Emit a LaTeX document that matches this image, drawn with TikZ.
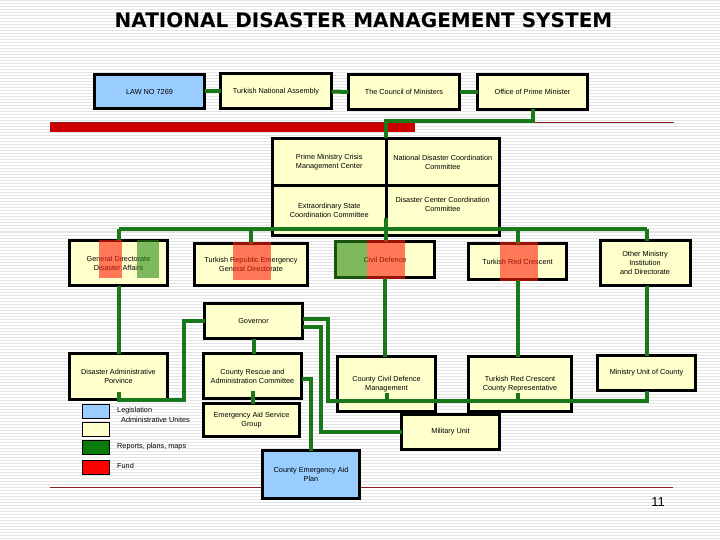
\documentclass[tikz,border=0pt]{standalone}
\usepackage{fontspec}
\newfontfamily\lsans{Liberation Sans}
\newfontfamily\ttlfont{DejaVu Sans}
\definecolor{cream}{RGB}{255,255,204}
\definecolor{lblue}{RGB}{153,204,255}
\definecolor{lgreen}{RGB}{25,120,25}
\definecolor{barred}{RGB}{204,0,0}
\definecolor{tred}{RGB}{140,30,30}
\definecolor{stripe}{RGB}{228,228,228}
\definecolor{ovred}{RGB}{255,30,10}
\definecolor{ovgreen}{RGB}{40,140,20}
\definecolor{legred}{RGB}{255,0,0}
\definecolor{leggreen}{RGB}{10,122,10}
\begin{document}
\begin{tikzpicture}[x=1pt,y=-1pt,
  box/.style={draw=black,line width=3pt,fill=cream,align=center,inner sep=0pt,outer sep=0pt,
    font=\lsans\fontsize{7.3}{9}\selectfont,text=black},
  sz/.style 2 args={minimum width=#1pt,minimum height=#2pt},
  gl/.style={draw=lgreen,line width=4pt},
  sw/.style={draw=black,line width=1pt,minimum width=27pt,minimum height=14pt,inner sep=0pt},
  lab/.style={anchor=west,inner sep=0pt,font=\lsans\fontsize{7.3}{9}\selectfont},
  rstrip/.style={fill=ovred,fill opacity=0.6},
  gstrip/.style={fill=ovgreen,fill opacity=0.6},
  tline/.style={draw=tred,line width=1pt}]
\useasboundingbox (0,0) rectangle (720,540);
\fill[white] (0,0) rectangle (720,540);
\foreach \i in {1,4,...,539} \draw[stripe,line width=1pt] (0,\i) -- (720,\i);
% template lines
\draw[tline] (50,123) -- (674,123);
\draw[tline] (50,487) -- (673,487);
% title
\node[font=\ttlfont\bfseries\fontsize{20}{22}\selectfont] (title) at (363.5,20) {NATIONAL DISASTER MANAGEMENT SYSTEM};
% red bar
\fill[barred] (50,123) rectangle (415,132);
% header row
\node[box,sz={110}{34},fill=lblue] (law) at (149.5,91.5) {LAW NO 7269};
\node[box,sz={111}{35}] (tna) at (276,91.5) {Turkish National Assembly};
\node[box,sz={111}{35}] (com) at (404,92) {The Council of Ministers};
\node[box,sz={110}{35}] (opm) at (532.5,92) {Office of Prime Minister};
% grid
\node[box,sz={113.5}{47.5}] (pmc) at (329.25,162.25) {Prime Ministry Crisis\\Management Center};
\node[box,sz={113.5}{47.5}] (ndc) at (442.75,162.25) {National Disaster Coordination\\Committee};
\node[box,sz={113.5}{49.5}] (esc) at (329.25,210.75) {Extraordinary State\\Coordination Committee};
\node[box,sz={113.5}{49.5}] (dcc) at (442.75,210.75) {Disaster Center Coordination\\Committee\\[3pt]};
% second row
\node[box,sz={98}{45}] (gd) at (118.5,263) {General Directorate\\Disaster Affairs};
\node[box,sz={113}{42}] (tre) at (251,264.5) {Turkish Republic Emergency\\General Directorate};
\node[box,sz={99}{36}] (cd) at (385,259.5) {Civil Defence};
\node[box,sz={98}{36}] (trc) at (517.5,261.5) {Turkish Red Crescent};
\node[box,sz={90}{45}] (om) at (645,263) {Other Ministry\\Institution\\and Directorate};
% lower part
\node[box,sz={98}{35}] (gov) at (253.5,321) {Governor};
\node[box,sz={98}{46}] (dap) at (118.5,376.5) {Disaster Administrative\\Porvince};
\node[box,sz={98}{45}] (crc) at (252.5,376) {County Rescue and\\Administration Committee};
\node[box,sz={96}{33}] (eas) at (251.5,420) {Emergency Aid Service\\Group};
\node[box,sz={97}{48},fill=lblue] (ceap) at (311,474.5) {County Emergency Aid\\Plan};
\node[box,sz={98}{55}] (ccd) at (386.5,384) {County Civil Defence\\Management};
\node[box,sz={103}{55}] (trcc) at (520,384) {Turkish Red Crescent\\County Representative};
\node[box,sz={98}{35}] (muc) at (646.5,373) {Ministry Unit of County};
\node[box,sz={98}{35}] (mil) at (450.5,432) {Military Unit};
% coordinates
\coordinate (t1) at (386,121);
\coordinate (gc) at (386,218);
\coordinate (busL) at (118.5,229);
\coordinate (busR) at (646.5,229);
\coordinate (jx) at (184,0);
\coordinate (lb1) at (328,401);
\coordinate (lb2) at (646.5,401);
\coordinate (lx) at (321,0);
% green connectors
\draw[gl] (law) -- (tna);
\draw[gl] (tna) -- (com);
\draw[gl] (com) -- (opm);
\draw[gl] (opm.south) |- (t1) -- (t1 |- pmc.north);
\draw[gl] (busL) -- (busR);
\draw[gl] (busL) -- (busL |- gd.north);
\draw[gl] (busL -| tre.north) -- (tre.north);
\draw[gl] (gc) -- (gc |- cd.north);
\draw[gl] (busL -| trc.north) -- (trc.north);
\draw[gl] (busR) -- (busR |- om.north);
\draw[gl] (gd.south) -- (dap.north);
\draw[gl] (cd.south) -- (cd.south |- ccd.north);
\draw[gl] (trc.south) -- (trc.south |- trcc.north);
\draw[gl] (muc.north |- om.south) -- (muc.north);
\draw[gl] ([yshift=8pt]dap.south) -- (dap.south) -- (dap.south -| jx) |- (gov.west);
\draw[gl] (gov.south) -- (gov.south |- crc.north);
\draw[gl] ([yshift=8pt]crc.south) -- (crc.south |- eas.north);
\draw[gl] ([yshift=-3pt]crc.east) -| (ceap.north);
\draw[gl] ([yshift=2pt]gov.east) -| (lb1) -- (lb2) -- (muc.south);
\draw[gl] (ccd.south |- lb1) -- ++(0,-8);
\draw[gl] (trc.south |- lb1) -- ++(0,-8);
\draw[gl] ([yshift=-6pt]gov.east) -| (mil.west -| lx) -- (mil.west);
% translucent strips
\fill[rstrip] (99,240) rectangle (122,278);
\fill[gstrip] (137,240) rectangle (159,278);
\fill[rstrip] (233,242) rectangle (271,280);
\fill[gstrip] (334,240) rectangle (367,279);
\fill[rstrip] (367,240) rectangle (405,279);
\fill[rstrip] (500,242) rectangle (538,281);
% legend
\node[sw,fill=lblue] (lg1) at (96,411.5) {};
\node[sw,fill=cream] (lg2) at (96,429.5) {};
\node[sw,fill=leggreen] (lg3) at (96,447.5) {};
\node[sw,fill=legred] (lg4) at (96,467.5) {};
\node[lab] (lt1) at (117,411) {Legislation};
\node[lab] (lt2) at (121,420) {Administrative Unites};
\node[lab] (lt3) at (117,447) {Reports, plans, maps};
\node[lab] (lt4) at (117,466) {Fund};
% page number
\node[font=\lsans\fontsize{13}{13}\selectfont] (pg) at (658,502) {11};
\end{tikzpicture}
\end{document}
